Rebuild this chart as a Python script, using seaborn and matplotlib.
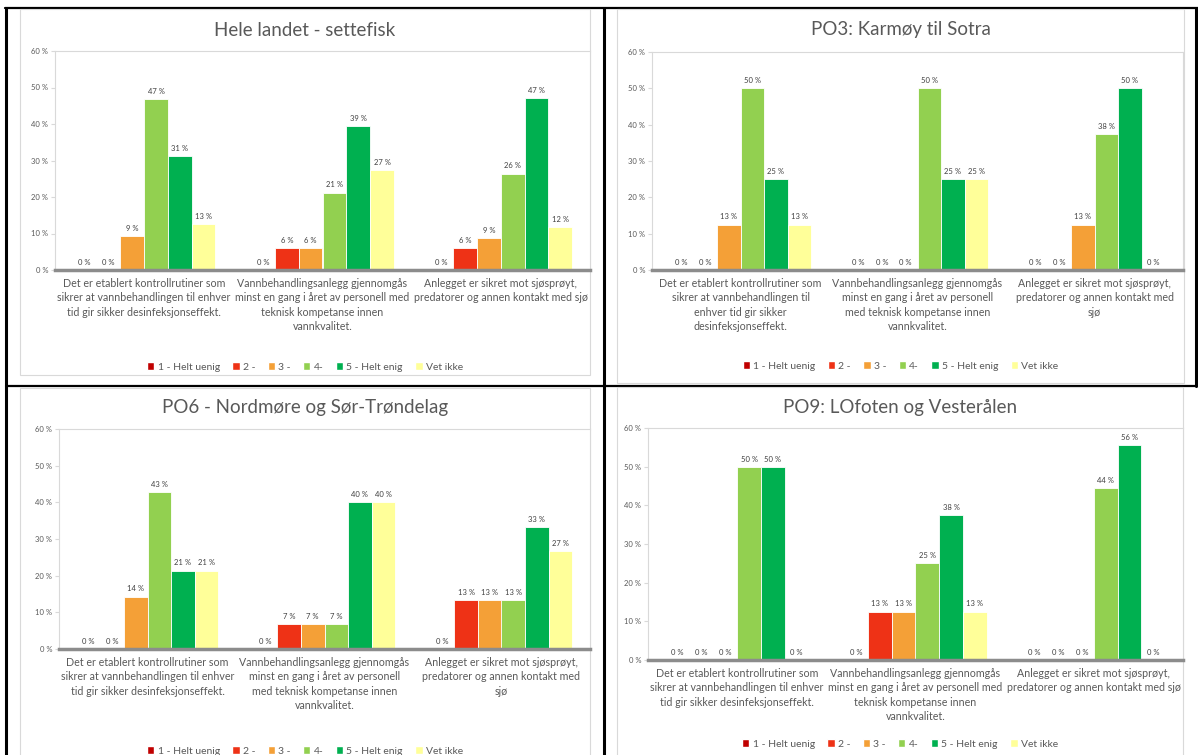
import math
import numpy as np
import pandas as pd
import seaborn as sns
import matplotlib.pyplot as plt
from matplotlib.lines import Line2D
from matplotlib.patches import Patch, Rectangle

W, H = 1198, 755

svar = ["1 - Helt uenig", "2 -", "3 -", "4-", "5 - Helt enig", "Vet ikke"]
farger = ["#C00000", "#EE3216", "#F4A037", "#92D050", "#00B050", "#FFFF99"]

titler = ["Hele landet - settefisk", "PO3: Karmøy til Sotra",
          "PO6 - Nordmøre og Sør-Trøndelag", "PO9: LOfoten og Vesterålen"]

# andel i prosent per svaralternativ, én rad per påstand
hele_landet = [[0, 0, 9.4, 46.9, 31.3, 12.5],
               [0, 6.1, 6.1, 21.2, 39.4, 27.3],
               [0, 5.9, 8.8, 26.4, 47.1, 11.8]]
po3 = [[0, 0, 12.5, 50, 25, 12.5],
       [0, 0, 0, 50, 25, 25],
       [0, 0, 12.5, 37.5, 50, 0]]
po6 = [[0, 0, 14.3, 42.9, 21.4, 21.4],
       [0, 6.7, 6.7, 6.7, 40, 40],
       [0, 13.3, 13.3, 13.3, 33.3, 26.7]]
po9 = [[0, 0, 0, 50, 50, 0],
       [0, 12.5, 12.5, 25, 37.5, 12.5],
       [0, 0, 0, 44.4, 55.6, 0]]

# påstandene, med linjeskift slik de står i hvert diagram
etiketter_a = ["Det er etablert kontrollrutiner som\nsikrer at vannbehandlingen til enhver\ntid gir sikker desinfeksjonseffekt.",
               "Vannbehandlingsanlegg gjennomgås\nminst en gang i året av personell med\nteknisk kompetanse innen\nvannkvalitet.",
               "Anlegget er sikret mot sjøsprøyt,\npredatorer og annen kontakt med sjø"]
etiketter_b = ["Det er etablert kontrollrutiner som\nsikrer at vannbehandlingen til\nenhver tid gir sikker\ndesinfeksjonseffekt.",
               "Vannbehandlingsanlegg gjennomgås\nminst en gang i året av personell\nmed teknisk kompetanse innen\nvannkvalitet.",
               "Anlegget er sikret mot sjøsprøyt,\npredatorer og annen kontakt med\nsjø"]
etiketter_c = ["Det er etablert kontrollrutiner som\nsikrer at vannbehandlingen til enhver\ntid gir sikker desinfeksjonseffekt.",
               "Vannbehandlingsanlegg gjennomgås\nminst en gang i året av personell\nmed teknisk kompetanse innen\nvannkvalitet.",
               "Anlegget er sikret mot sjøsprøyt,\npredatorer og annen kontakt med\nsjø"]

sns.set_style("white")
plt.rcParams["font.family"] = ["Lato", "DejaVu Sans"]

fig = plt.figure(figsize=(W / 100, H / 100), dpi=100)


def fx(x):
    return x / W


def fy(y):
    return 1 - y / H


def excel_rund(v):
    return f"{math.floor(v + 0.5)} %"


# tabellinjer
for x0, y0, x1, y1, lw in [(5, 8, 1198, 8, 1.6), (6, 8, 6, 755, 2.2), (604, 8, 604, 755, 2.2),
                           (6, 386, 1198, 386, 1.6), (1196, 8, 1196, 386, 2.2)]:
    fig.add_artist(Line2D([fx(x0), fx(x1)], [fy(y0), fy(y1)], color="black", lw=lw, zorder=-3))

# (ramme, plott, tittel-y, legende-y)
oppsett = [
    ((20, 9, 590, 375), (55, 51, 590, 270), 30, 367),
    ((617, 9, 1184, 383), (652, 52, 1183, 270), 30, 366),
    ((20, 388, 590, 790), (59, 429, 590, 649), 408, 751),
    ((617, 387, 1183, 790), (648, 428, 1183, 660), 408, 744),
]
alle_data = [hele_landet, po3, po6, po9]
alle_etiketter = [etiketter_a, etiketter_b, etiketter_c, etiketter_a]

for tittel, verdier, etiketter, (ramme, plott, ty, ly) in zip(titler, alle_data, alle_etiketter, oppsett):
    rx0, ry0, rx1, ry1 = ramme
    fig.add_artist(Rectangle((fx(rx0), fy(ry1)), fx(rx1 - rx0), (ry1 - ry0) / H,
                             facecolor="white", edgecolor="#D9D9D9", lw=0.8, zorder=-2))
    px0, py0, px1, py1 = plott
    ax = fig.add_axes([fx(px0), fy(py1), fx(px1 - px0), (py1 - py0) / H])

    df = pd.DataFrame(verdier, columns=svar)
    df["påstand"] = etiketter
    lang = df.melt(id_vars="påstand", var_name="svar", value_name="andel")
    sns.barplot(data=lang, x="påstand", y="andel", hue="svar", hue_order=svar,
                palette=farger, width=0.8, saturation=1, edgecolor="white",
                linewidth=0.6, legend=False, ax=ax)

    for cont in ax.containers:
        ax.bar_label(cont, labels=[excel_rund(v) for v in cont.datavalues],
                     padding=3, fontsize=5.5, color="#404040")

    ax.set_ylim(0, 60)
    ax.set_xlim(-0.5, 2.5)
    ax.set_yticks(range(0, 61, 10))
    ax.set_yticklabels([f"{t} %" for t in range(0, 61, 10)])
    ax.set_xlabel("")
    ax.set_ylabel("")
    ax.set_xticks([0.5, 1.5], minor=True)
    ax.tick_params(axis="x", which="major", length=0, pad=6, labelsize=7.7, labelcolor="#595959")
    ax.tick_params(axis="x", which="minor", length=4, width=1.2, color="#8C8C8C")
    ax.tick_params(axis="y", length=3, width=0.8, color="#D9D9D9", labelsize=5.5,
                   labelcolor="#595959", pad=2, left=True)
    for lbl in ax.get_xticklabels():
        lbl.set_linespacing(1.35)
    for side in ["left", "top", "right"]:
        ax.spines[side].set_color("#D9D9D9")
        ax.spines[side].set_linewidth(0.8)
    ax.spines["bottom"].set_color("#8C8C8C")
    ax.spines["bottom"].set_linewidth(2.5)

    cx = (rx0 + rx1) / 2
    fig.text(fx(cx), fy(ty), tittel, ha="center", va="center", fontsize=13.5, color="#595959")
    fig.legend(handles=[Patch(facecolor=c, label=s) for s, c in zip(svar, farger)],
               loc="center", bbox_to_anchor=(fx(cx), fy(ly)), ncol=6, frameon=False,
               fontsize=7.5, handlelength=0.7, handleheight=0.7, handletextpad=0.3,
               columnspacing=1.2, labelcolor="#595959")

fig.savefig("out.png", dpi=100)
